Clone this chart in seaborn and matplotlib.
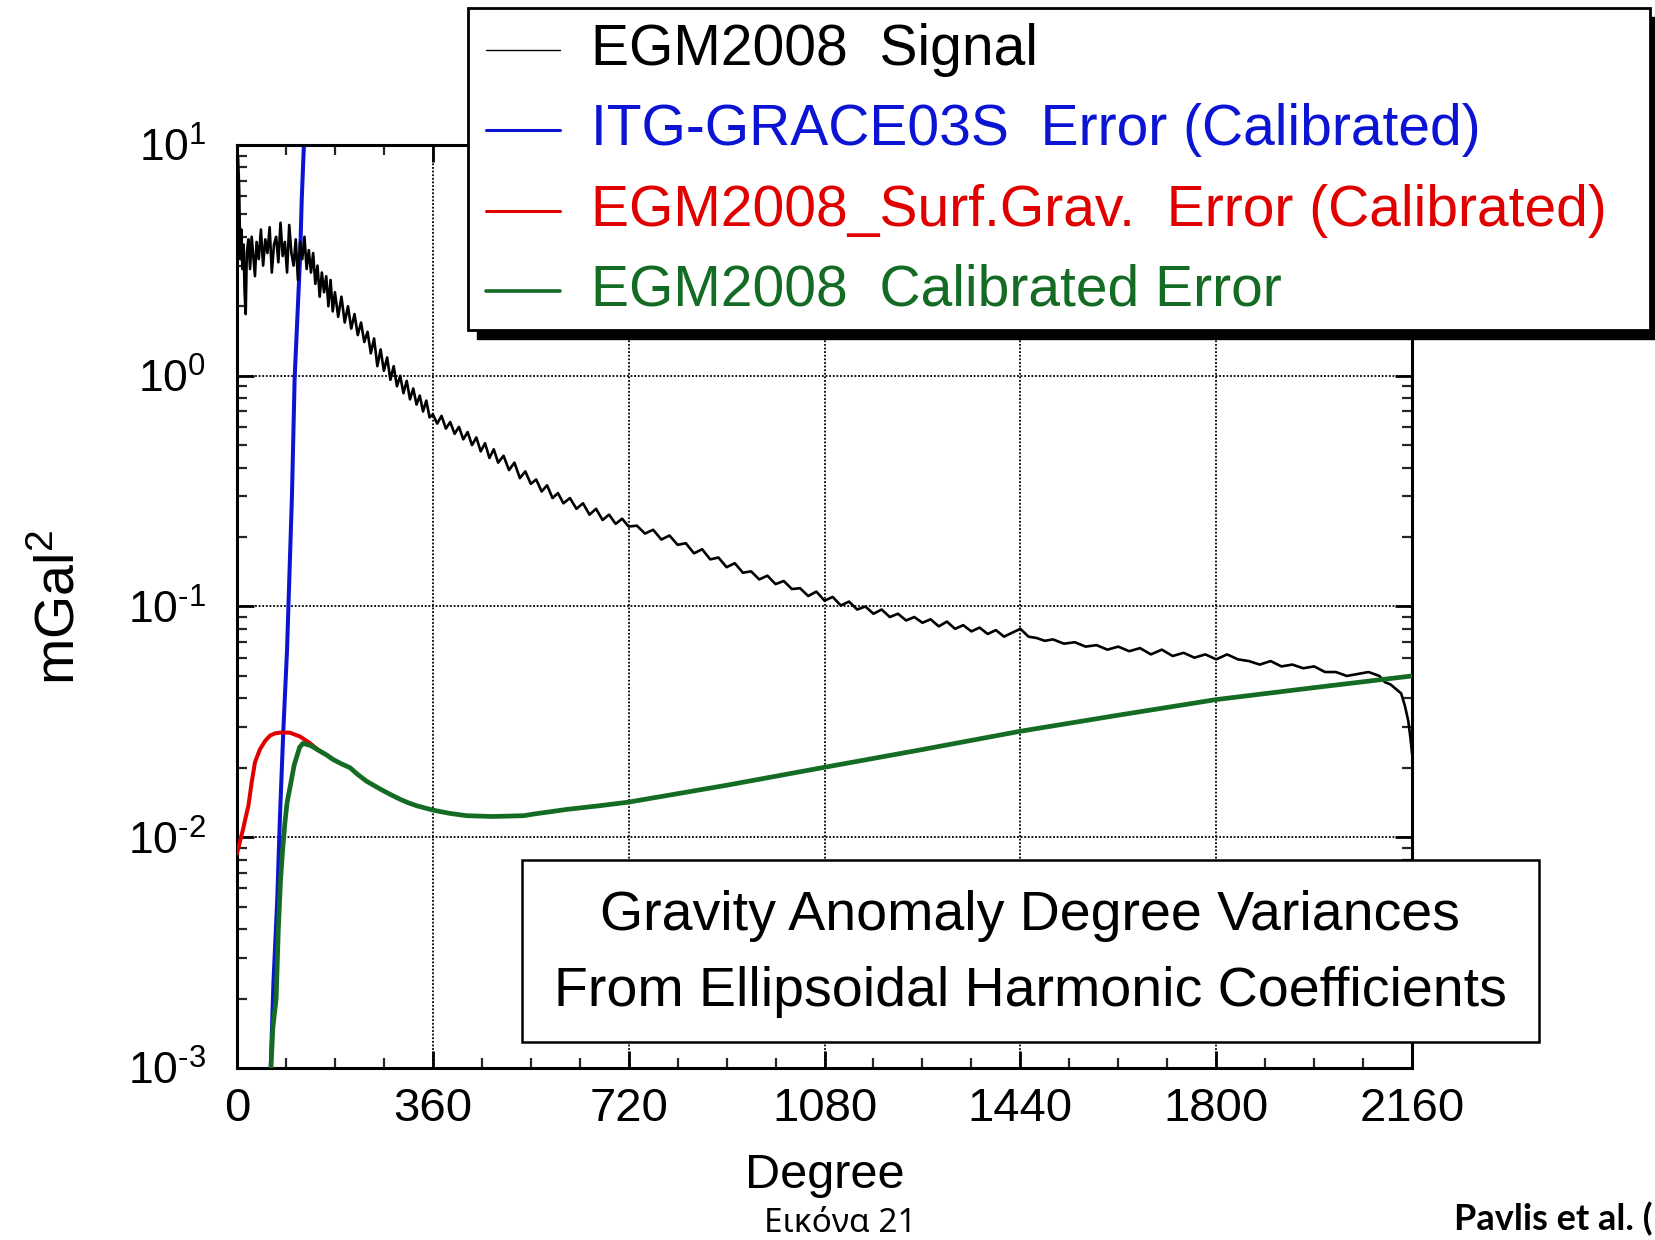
import numpy as np
import pandas as pd
import seaborn as sns
import matplotlib.pyplot as plt
from matplotlib.lines import Line2D
from matplotlib.patches import Rectangle
from matplotlib.ticker import MultipleLocator, LogLocator, NullFormatter, FuncFormatter

# EGM2008 signal (degree, mGal^2)
signal_deg = [2, 4, 6, 8, 10, 12, 14, 16, 18, 21, 24, 27, 30, 33, 36, 40, 44, 48, 52, 56,
              60, 64, 68, 72, 76, 80, 84, 88, 92, 96, 100, 104, 108, 112, 116, 120,
              124, 128, 132, 136, 140, 144, 148, 152, 156, 160, 164, 168, 172, 176, 180,
              186, 192, 198, 204, 210, 216, 222, 228, 234, 240, 246, 252, 258, 264, 270,
              276, 282, 288, 294, 300, 306, 312, 318, 324, 330, 336, 342, 348, 354, 360,
              368, 376, 384, 392, 400, 408, 416, 424, 432, 440, 448, 456, 464, 472, 480,
              490, 500, 510, 520, 530, 540, 550, 560, 570, 580, 590, 600, 612, 624, 636,
              648, 660, 672, 684, 696, 708, 720, 735, 750, 765, 780, 795, 810, 825, 840,
              855, 870, 885, 900, 915, 930, 945, 960, 975, 990, 1005, 1020, 1035, 1050,
              1065, 1080, 1095, 1110, 1125, 1140, 1155, 1170, 1185, 1200, 1215, 1230,
              1245, 1260, 1275, 1290, 1305, 1320, 1335, 1350, 1365, 1380, 1395, 1410,
              1425, 1440, 1455, 1470, 1485, 1500, 1520, 1540, 1560, 1580, 1600, 1620,
              1640, 1660, 1680, 1700, 1720, 1740, 1760, 1780, 1800, 1820, 1840, 1860,
              1880, 1900, 1920, 1940, 1960, 1980, 2000, 2020, 2040, 2060, 2080, 2100,
              2110, 2120, 2130, 2140, 2147, 2153, 2157, 2160]
signal_val = [8.8, 6.5, 3.2, 4.3, 2.9, 3.7, 2.3, 1.85, 3.4, 3.9, 2.9, 4.0, 3.3, 2.7, 3.8, 3.2, 4.3, 3.0, 3.9, 3.4,
              4.4, 2.8, 3.7, 4.0, 3.1, 4.6, 3.3, 3.8, 2.8, 4.5, 3.4, 3.0, 3.9, 2.6, 3.8, 3.2,
              4.0, 2.9, 3.5, 2.8, 3.4, 2.5, 3.0, 2.2, 2.8, 2.3, 2.7, 2.0, 2.6, 1.9, 2.3,
              1.8, 2.2, 1.7, 2.0, 1.6, 1.85, 1.5, 1.7, 1.4, 1.55, 1.25, 1.45, 1.1, 1.3, 1.05,
              1.2, 0.96, 1.1, 0.9, 1.0, 0.84, 0.95, 0.79, 0.88, 0.75, 0.82, 0.70, 0.78, 0.66, 0.68,
              0.62, 0.67, 0.59, 0.63, 0.56, 0.60, 0.53, 0.57, 0.50, 0.54, 0.47, 0.51, 0.44, 0.48, 0.42,
              0.45, 0.39, 0.42, 0.36, 0.385, 0.34, 0.355, 0.315, 0.335, 0.295, 0.31, 0.28, 0.295, 0.265, 0.28,
              0.25, 0.265, 0.237, 0.25, 0.228, 0.24, 0.222, 0.224, 0.207, 0.215, 0.195, 0.203, 0.185, 0.188, 0.17,
              0.177, 0.16, 0.163, 0.148, 0.154, 0.14, 0.142, 0.131, 0.136, 0.125, 0.129, 0.119, 0.12, 0.111,
              0.116, 0.106, 0.11, 0.101, 0.105, 0.097, 0.1, 0.093, 0.097, 0.09, 0.093, 0.087,
              0.09, 0.085, 0.088, 0.082, 0.086, 0.08, 0.083, 0.078, 0.081, 0.076, 0.079, 0.074,
              0.077, 0.080, 0.074, 0.073, 0.071, 0.072, 0.069, 0.07, 0.067, 0.068, 0.065, 0.067,
              0.064, 0.066, 0.062, 0.065, 0.061, 0.063, 0.06, 0.062, 0.059, 0.062, 0.059, 0.058,
              0.056, 0.058, 0.055, 0.056, 0.054, 0.055, 0.052, 0.052, 0.050, 0.051, 0.052, 0.050,
              0.047, 0.046, 0.044, 0.042, 0.037, 0.032, 0.027, 0.023]

# ITG-GRACE03S error
grace_deg = [58, 62, 67, 74, 79, 85, 92, 101, 106, 116, 119, 123, 126]
grace_val = [0.0006, 0.0010, 0.00234, 0.00537, 0.0123, 0.0284, 0.065, 0.30, 0.98, 3.27, 5.8, 10.0, 14.0]

# EGM2008 surface gravity error
surf_deg = [0, 5, 11, 16, 21, 27, 33, 42, 52, 61, 70, 79, 97, 116, 134, 150, 165, 177]
surf_val = [0.0085, 0.0095, 0.0108, 0.0122, 0.0137, 0.0173, 0.0211, 0.0240, 0.0262, 0.0276,
            0.0282, 0.0284, 0.0284, 0.0273, 0.0256, 0.0238, 0.0227, 0.0217]

# EGM2008 calibrated error
egm_deg = [58, 66, 72, 76, 80, 84, 88, 92, 99, 105, 110, 115, 121, 135, 150, 165, 177, 192,
           208, 222, 238, 253, 269, 285, 300, 315, 330, 345, 361, 390, 422, 470, 527, 545,
           606, 667, 720, 900, 1080, 1260, 1440, 1620, 1800, 1980, 2160]
egm_val = [0.0006, 0.0015, 0.0020, 0.0040, 0.0065, 0.0089, 0.0115, 0.0141, 0.0172, 0.0205,
           0.0224, 0.0245, 0.0255, 0.0250, 0.0238, 0.0227, 0.0217, 0.0208, 0.0200, 0.0187,
           0.0175, 0.0167, 0.0159, 0.0152, 0.0146, 0.0141, 0.0137, 0.0134, 0.0131, 0.0127,
           0.0124, 0.0123, 0.0124, 0.0126, 0.0132, 0.0137, 0.0142, 0.0168, 0.0201, 0.0240,
           0.0288, 0.0338, 0.0395, 0.0445, 0.0500]

labels = ["EGM2008  Signal", "ITG-GRACE03S  Error (Calibrated)",
          "EGM2008_Surf.Grav.  Error (Calibrated)", "EGM2008  Calibrated Error"]
colors = ["black", "#0a14d2", "#e00000", "#146b24"]
xticks = [0, 360, 720, 1080, 1440, 1800, 2160]

sns.set_style("ticks")
plt.rcParams['font.family'] = ['Liberation Sans', 'DejaVu Sans']
plt.rcParams['mathtext.fontset'] = 'custom'
plt.rcParams['mathtext.rm'] = 'Liberation Sans'
plt.rcParams['axes.unicode_minus'] = False
plt.rcParams['text.color'] = 'black'

fig = plt.figure(figsize=(16.55, 12.4), dpi=100)
ax = fig.add_axes([0.1432, 0.1387, 0.7100, 0.7444])

sns.lineplot(x=grace_deg, y=grace_val, color=colors[1], lw=2.9, ax=ax, zorder=2)
sns.lineplot(x=signal_deg, y=signal_val, color=colors[0], lw=1.9, ax=ax, zorder=3)
sns.lineplot(x=surf_deg, y=surf_val, color=colors[2], lw=2.9, ax=ax, zorder=4)
sns.lineplot(x=egm_deg, y=egm_val, color=colors[3], lw=3.4, ax=ax, zorder=5)

ax.set_yscale('log')
ax.set_xlim(0, 2160)
ax.set_ylim(1e-3, 1e1)
ax.set_xticks(xticks)
ax.xaxis.set_minor_locator(MultipleLocator(90))
ax.yaxis.set_major_locator(LogLocator(base=10, numticks=10))
ax.yaxis.set_minor_locator(LogLocator(base=10, subs=np.arange(2, 10), numticks=20))
ax.yaxis.set_minor_formatter(NullFormatter())


def pow_label(v, pos):
    e = int(round(np.log10(v)))
    if e < 0:
        return r"$\mathdefault{10^{\text{-}%d}}$" % (-e)
    return r"$\mathdefault{10^{%d}}$" % e


ax.yaxis.set_major_formatter(FuncFormatter(pow_label))
ax.set_xlabel("")
ax.set_ylabel("")
ax.grid(True, which='major', color='black', linestyle=(0, (1, 1)), lw=1.3)
ax.tick_params(which='major', direction='in', length=12, width=2, top=True, right=True,
               colors='black')
ax.tick_params(which='minor', direction='in', length=7, width=1.6, top=True, right=True)
ax.tick_params(axis='x', pad=14, labelsize=34)
ax.tick_params(axis='y', pad=22, labelsize=32)
for sp in ax.spines.values():
    sp.set_linewidth(2.2)
    sp.set_color('black')

# legend box with black drop shadow
fig.patches.append(Rectangle((0.2882, 0.7266), 0.72, 0.2597, transform=fig.transFigure,
                             facecolor='black', edgecolor='black', zorder=5))
fig.patches.append(Rectangle((0.2828, 0.7339), 0.7142, 0.2597, transform=fig.transFigure,
                             facecolor='white', edgecolor='black', lw=2.0, zorder=6))
rows = [0.9595, 0.8955, 0.8295, 0.7655]
widths = [1.0, 2.2, 2.2, 2.6]
for y, lab, c, w in zip(rows, labels, colors, widths):
    fig.add_artist(Line2D([0.2937, 0.3384], [y, y], color=c, lw=w, transform=fig.transFigure, zorder=7))
    fig.text(0.357, y, lab, color=c, fontsize=41, va='center', ha='left', zorder=7)

# title box
fig.patches.append(Rectangle((0.3154, 0.1597), 0.6145, 0.1468, transform=fig.transFigure,
                             facecolor='white', edgecolor='black', lw=1.8, zorder=6))
fig.text(0.6224, 0.2613, "Gravity Anomaly Degree Variances", fontsize=40,
         ha='center', va='center', zorder=7)
fig.text(0.6224, 0.2000, "From Ellipsoidal Harmonic Coefficients", fontsize=40,
         ha='center', va='center', zorder=7)

fig.text(0.0363, 0.5100, r"mGal$^2$", rotation=90, fontsize=40, ha='center', va='center')
fig.text(0.4985, 0.0419, "Degree", fontsize=35, ha='center', va='baseline')
fig.text(0.5076, 0.0065, "Εικόνα 21", fontsize=24, family=['Noto Sans', 'DejaVu Sans'],
         ha='center', va='baseline')
fig.text(0.9985, 0.0080, "Pavlis et al. (", fontsize=26, fontweight='bold',
         family=['Lato', 'Open Sans', 'DejaVu Sans'], ha='right', va='baseline')

fig.savefig("out.png", dpi=100)
